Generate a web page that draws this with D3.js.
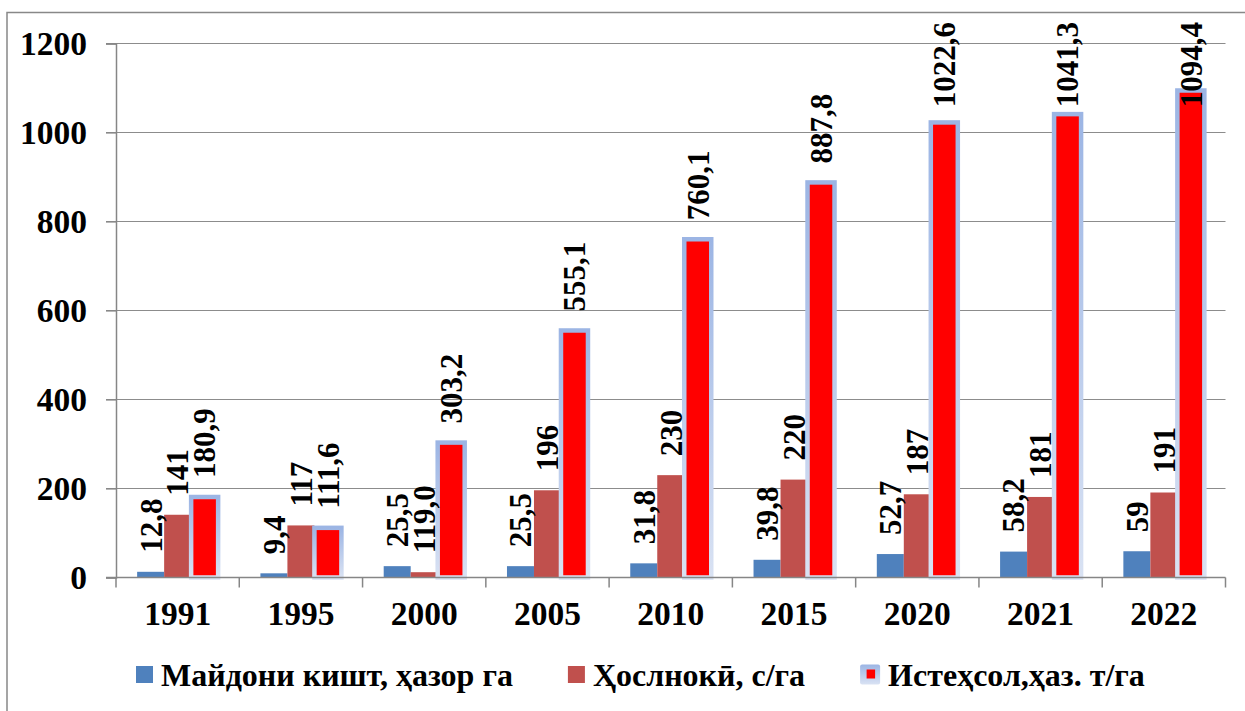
<!DOCTYPE html>
<html>
<head>
<meta charset="utf-8">
<script src="https://cdn.jsdelivr.net/npm/d3@7"></script>
<style>
  html, body { margin: 0; padding: 0; background: #fff; }
  svg { display: block; }
  svg text { font-family: "Liberation Serif", "Tinos", "Times New Roman", "Nimbus Roman", "FreeSerif", "Noto Serif", "DejaVu Serif", serif; font-weight: 700; fill: #000; }
</style>
</head>
<body>
<svg id="chart" width="1245" height="711"></svg>
<script>
// ---- data ----
const years = ["1991", "1995", "2000", "2005", "2010", "2015", "2020", "2021", "2022"];
const areaValues = [12.8, 9.4, 25.5, 25.5, 31.8, 39.8, 52.7, 58.2, 59];
const yieldValues = [141, 117, 11.9, 196, 230, 220, 187, 181, 191];
const prodValues = [180.9, 111.6, 303.2, 555.1, 760.1, 887.8, 1022.6, 1041.3, 1094.4];
const areaLabels = ["12,8", "9,4", "25,5", "25,5", "31,8", "39,8", "52,7", "58,2", "59"];
const yieldLabels = ["141", "117", "119,0", "196", "230", "220", "187", "181", "191"];
const prodLabels = ["180,9", "111,6", "303,2", "555,1", "760,1", "887,8", "1022,6", "1041,3", "1094,4"];
const seriesNames = ["Майдони кишт, ҳазор га", "Ҳослнокӣ, с/га", "Истеҳсол,ҳаз. т/га"];
const yTicks = [0, 200, 400, 600, 800, 1000, 1200];

const series = [
  { name: seriesNames[0], values: areaValues, labels: areaLabels, color: "#4f81bd" },
  { name: seriesNames[1], values: yieldValues, labels: yieldLabels, color: "#c0504d" },
  { name: seriesNames[2], values: prodValues, labels: prodLabels, color: "#ff0000" }
];

// ---- layout ----
const svg = d3.select("#chart");
const plot = { left: 116, right: 1225.5, top: 43.5, bottom: 577.5 };
const axisFont = 33.5, labelFont = 31, legendFont = 32;
const FONT = "'Liberation Serif', Tinos, 'Times New Roman', 'Nimbus Roman', FreeSerif, 'Noto Serif', 'DejaVu Serif', serif";

const defs = svg.append("defs");
const grad = defs.append("linearGradient").attr("id", "glow")
  .attr("x1", 0).attr("y1", 0).attr("x2", 0).attr("y2", 1);
grad.append("stop").attr("offset", "0%").attr("stop-color", "#9cb5e4");
grad.append("stop").attr("offset", "100%").attr("stop-color", "#d9e2f3");
const lgrad = defs.append("linearGradient").attr("id", "lglow")
  .attr("x1", 0).attr("y1", 0).attr("x2", 0).attr("y2", 1);
lgrad.append("stop").attr("offset", "0%").attr("stop-color", "#9cb5e4");
lgrad.append("stop").attr("offset", "100%").attr("stop-color", "#d9e2f3");

// outer chart border (right & bottom beyond the view)
svg.append("rect").attr("x", 7).attr("y", 12.5).attr("width", 1300).attr("height", 800)
  .attr("fill", "none").attr("stroke", "#888").attr("stroke-width", 1.5);

const x0 = d3.scaleBand().domain(years).range([plot.left, plot.right]).padding(0);
const groupW = x0.bandwidth() * 0.657;
const x1 = d3.scaleBand().domain([0, 1, 2]).range([0, groupW]).padding(0);
const y = d3.scaleLinear().domain([0, 1200]).range([plot.bottom, plot.top]);

function styleText(sel, size) {
  return sel.style("font-family", FONT).style("font-weight", "700").style("font-size", size + "px").attr("fill", "#000");
}

// gridlines
svg.append("g").selectAll("line").data(yTicks.filter(d => d > 0)).join("line")
  .attr("x1", plot.left - 10).attr("x2", plot.right)
  .attr("y1", d => y(d)).attr("y2", d => y(d))
  .attr("stroke", "#8c8c8c").attr("stroke-width", 1.2);

// y axis
const yAxis = svg.append("g").attr("transform", `translate(${plot.left},0)`)
  .call(d3.axisLeft(y).tickValues(yTicks).tickSize(10).tickPadding(19).tickFormat(d3.format("d")));
yAxis.attr("font-family", null).attr("font-size", null);
yAxis.select(".domain").attr("stroke", "#868686").attr("stroke-width", 1.5);
yAxis.selectAll(".tick line").attr("stroke", "#868686").attr("stroke-width", 1.2);
styleText(yAxis.selectAll(".tick text"), axisFont).attr("dy", "0.34em");

// bars
const groups = svg.append("g").selectAll("g").data(years).join("g")
  .attr("transform", d => `translate(${x0(d) + (x0.bandwidth() - groupW) / 2},0)`);

series.forEach((s, si) => {
  groups.append("rect")
    .attr("x", x1(si))
    .attr("width", x1.bandwidth())
    .attr("y", (d, i) => y(s.values[i]))
    .attr("height", (d, i) => y(0) - y(s.values[i]))
    .attr("fill", s.color)
    .attr("stroke", si === 2 ? "url(#glow)" : "none")
    .attr("stroke-width", si === 2 ? 4.5 : 0);
});

// x axis line + ticks
const xAxisG = svg.append("g");
xAxisG.append("line").attr("x1", plot.left - 10).attr("x2", plot.right)
  .attr("y1", plot.bottom).attr("y2", plot.bottom)
  .attr("stroke", "#868686").attr("stroke-width", 1.5);
const bounds = years.map(d => x0(d)).concat([plot.right]);
xAxisG.selectAll("line.tk").data(bounds).join("line").attr("class", "tk")
  .attr("x1", d => d).attr("x2", d => d)
  .attr("y1", plot.bottom).attr("y2", plot.bottom + 10)
  .attr("stroke", "#868686").attr("stroke-width", 1.5);
styleText(xAxisG.selectAll("text").data(years).join("text"), axisFont)
  .attr("x", d => x0(d) + x0.bandwidth() / 2)
  .attr("y", 625)
  .attr("text-anchor", "middle")
  .text(d => d);

// data labels (rotated)
const labelTop = 22;
series.forEach((s, si) => {
  styleText(groups.append("text"), labelFont)
    .attr("text-anchor", "start")
    .attr("dy", "0.35em")
    .text((d, i) => s.labels[i])
    .each(function (d, i) {
      const len = this.getComputedTextLength();
      const cx = x1(si) + x1.bandwidth() / 2;
      let start = y(s.values[i]) - 19;
      if (start - len < labelTop) start = labelTop + len;
      d3.select(this).attr("transform", `translate(${cx},${start}) rotate(-90)`);
    });
});

// legend
const legend = svg.append("g");
const legendY = 674.5;
let lx = 136;
const markerW = [17, 17, 20];
series.forEach((s, si) => {
  const g = legend.append("g");
  if (si < 2) {
    g.append("rect").attr("x", lx).attr("y", legendY - 8.5).attr("width", 17).attr("height", 17)
      .attr("fill", s.color);
  } else {
    g.append("rect").attr("x", lx).attr("y", legendY - 10).attr("width", 20).attr("height", 20)
      .attr("rx", 2).attr("fill", "url(#lglow)");
    g.append("rect").attr("x", lx + 6.5).attr("y", legendY - 5).attr("width", 8.5).attr("height", 9)
      .attr("fill", s.color);
  }
  const t = styleText(g.append("text"), legendFont).attr("x", lx + markerW[si] + 8).attr("y", legendY + 11)
    .text(s.name);
  const w = t.node().getComputedTextLength();
  lx = lx + markerW[si] + 8 + w + 55;
});
</script>
</body>
</html>
